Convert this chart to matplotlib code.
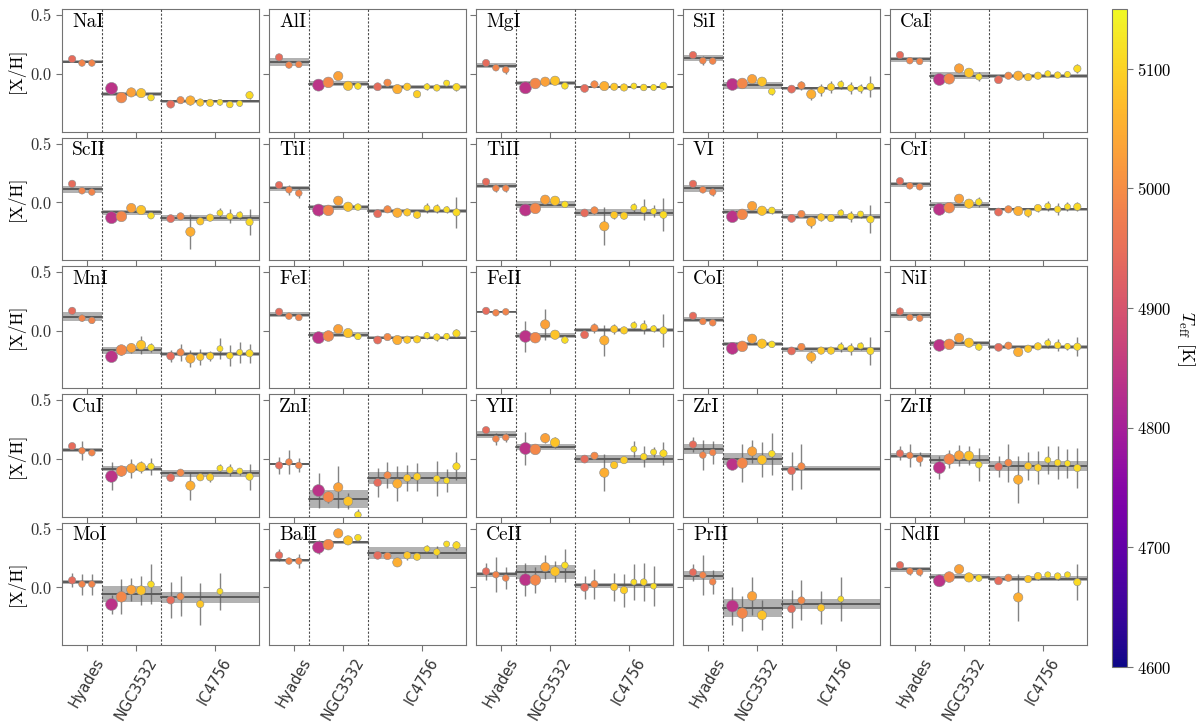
import numpy as np
import matplotlib
matplotlib.use('Agg')
import matplotlib.pyplot as plt
from matplotlib.colors import Normalize

nan = np.nan

elements = ['NaI', 'AlI', 'MgI', 'SiI', 'CaI',
            'ScII', 'TiI', 'TiII', 'VI', 'CrI',
            'MnI', 'FeI', 'FeII', 'CoI', 'NiI',
            'CuI', 'ZnI', 'YII', 'ZrI', 'ZrII',
            'MoI', 'BaII', 'CeII', 'PrII', 'NdII']
clusters = ['Hyades', 'NGC3532', 'IC4756']

# Effective temperatures of the stars in each cluster
hyades_teff = [4945, 4985, 4985]
ngc_teff = [4840, 4990, 5030, 5080, 5115]
ic_teff = [4945, 4995, 5050, 5085, 5095, 5115, 5105, 5115, 5110]

# marker areas (pt^2) per star
hyades_size = [28, 23, 23]
ngc_size = [74, 59, 45, 45, 23]
ic_size = [33, 28, 45, 28, 28, 19, 23, 19, 28]

hyades_vals = {
    'NaI': [0.128, 0.094, 0.094], 'AlI': [0.142, 0.077, 0.082], 'MgI': [0.094, 0.054, 0.037],
    'SiI': [0.162, 0.114, 0.111], 'CaI': [0.162, 0.114, 0.108], 'ScII': [0.158, 0.099, 0.088],
    'TiI': [0.147, 0.107, 0.079], 'TiII': [0.175, 0.121, 0.121], 'VI': [0.158, 0.107, 0.088],
    'CrI': [0.181, 0.141, 0.133], 'MnI': [0.169, 0.107, 0.088], 'FeI': [0.161, 0.124, 0.113],
    'FeII': [0.169, 0.153, 0.161], 'CoI': [0.127, 0.079, 0.068], 'NiI': [0.164, 0.113, 0.107],
    'CuI': [0.110, 0.071, 0.054], 'ZnI': [-0.054, -0.025, -0.054], 'YII': [0.246, 0.172, 0.184],
    'ZrI': [0.124, 0.034, 0.056], 'ZrII': [0.048, 0.031, 0.0], 'MoI': [0.060, 0.028, 0.028],
    'BaII': [0.273, 0.224, 0.224], 'CeII': [0.136, 0.108, 0.080], 'PrII': [0.128, 0.105, 0.048],
    'NdII': [0.189, 0.138, 0.130]}
hyades_errs = {
    'NaI': [.015, .015, .015], 'AlI': [.015, .015, .015], 'MgI': [.015, .015, .035],
    'SiI': [.015, .04, .02], 'CaI': [.015, .015, .015], 'ScII': [.02, .02, .02],
    'TiI': [.02, .04, .04], 'TiII': [.02, .03, .03], 'VI': [.02, .02, .03],
    'CrI': [.015, .02, .02], 'MnI': [.03, .02, .02], 'FeI': [.015, .015, .015],
    'FeII': [.02, .02, .02], 'CoI': [.015, .015, .015], 'NiI': [.015, .015, .015],
    'CuI': [.02, .08, .02], 'ZnI': [.07, .10, .06], 'YII': [.02, .05, .04],
    'ZrI': [.06, .13, .10], 'ZrII': [.06, .10, .06], 'MoI': [.06, .09, .09],
    'BaII': [.05, .02, .06], 'CeII': [.07, .15, .09], 'PrII': [.07, .17, .10],
    'NdII': [.02, .03, .03]}

ngc_vals = {
    'NaI': [-0.122, -0.200, -0.156, -0.162, -0.200], 'AlI': [-0.094, -0.071, -0.017, -0.100, -0.102],
    'MgI': [-0.117, -0.080, -0.065, -0.057, -0.100], 'SiI': [-0.088, -0.080, -0.043, -0.065, -0.148],
    'CaI': [-0.046, -0.040, 0.048, 0.011, -0.023], 'ScII': [-0.130, -0.119, -0.048, -0.065, -0.113],
    'TiI': [-0.065, -0.068, 0.014, -0.037, -0.040], 'TiII': [-0.065, -0.051, 0.023, 0.014, -0.017],
    'VI': [-0.121, -0.102, -0.031, -0.071, -0.068], 'CrI': [-0.059, -0.045, 0.031, -0.011, 0.003],
    'MnI': [-0.220, -0.164, -0.147, -0.121, -0.144], 'FeI': [-0.059, -0.045, 0.014, -0.020, -0.048],
    'FeII': [-0.048, -0.059, 0.054, -0.034, -0.079], 'CoI': [-0.150, -0.133, -0.068, -0.110, -0.116],
    'NiI': [-0.124, -0.116, -0.062, -0.102, -0.138], 'CuI': [-0.147, -0.102, -0.079, -0.068, -0.062],
    'ZnI': [-0.268, -0.322, -0.240, -0.359, -0.475], 'YII': [0.090, 0.082, 0.178, 0.141, nan],
    'ZrI': [-0.045, -0.034, 0.065, -0.006, 0.045], 'ZrII': [-0.073, 0.0, 0.031, 0.028, -0.048],
    'MoI': [-0.145, -0.080, -0.020, -0.026, 0.026], 'BaII': [0.341, 0.364, 0.460, 0.400, 0.423],
    'CeII': [0.065, 0.063, 0.173, 0.136, 0.188], 'PrII': [-0.159, -0.219, -0.074, -0.236, nan],
    'NdII': [0.056, 0.088, 0.155, 0.085, 0.079]}
ngc_errs = {
    'NaI': [.02, .02, .02, .02, .02], 'AlI': [.02, .02, .02, .02, .02], 'MgI': [.02, .02, .02, .02, .02],
    'SiI': [.02, .02, .02, .02, .03], 'CaI': [.02, .02, .02, .02, .04], 'ScII': [.04, .02, .02, .02, .02],
    'TiI': [.05, .02, .03, .02, .02], 'TiII': [.02, .02, .02, .02, .02], 'VI': [.02, .02, .02, .02, .03],
    'CrI': [.02, .02, .02, .02, .04], 'MnI': [.02, .04, .04, .08, .04], 'FeI': [.02, .02, .02, .02, .02],
    'FeII': [.13, .03, .13, .03, .02], 'CoI': [.02, .02, .02, .02, .02], 'NiI': [.02, .02, .02, .02, .03],
    'CuI': [.12, .04, .08, .05, .07], 'ZnI': [.15, .05, .18, .07, .05], 'YII': [.14, .02, .04, .05, nan],
    'ZrI': [.04, .16, .10, .15, .18], 'ZrII': [.10, .08, .09, .08, .14], 'MoI': [.08, .15, .10, .12, .17],
    'BaII': [.06, .02, .02, .02, .02], 'CeII': [.14, .11, .10, .09, .14], 'PrII': [.16, .15, .16, .13, nan],
    'NdII': [.04, .02, .03, .02, .02]}

ic_vals = {
    'NaI': [-0.256, -0.222, -0.225, -0.242, -0.245, -0.240, -0.259, -0.250, -0.180],
    'AlI': [-0.108, -0.074, -0.128, -0.108, -0.171, -0.108, -0.117, -0.077, -0.111],
    'MgI': [-0.122, -0.088, -0.102, -0.108, -0.114, -0.102, -0.114, -0.114, -0.100],
    'SiI': [-0.128, -0.097, -0.171, -0.134, -0.111, -0.088, -0.119, -0.125, -0.108],
    'CaI': [-0.048, -0.014, -0.014, -0.026, -0.014, 0.003, -0.009, -0.003, 0.046],
    'ScII': [-0.138, -0.119, -0.250, -0.161, -0.130, -0.090, -0.119, -0.107, -0.167],
    'TiI': [-0.096, -0.059, -0.088, -0.085, -0.105, -0.048, -0.054, -0.062, -0.085],
    'TiII': [-0.090, -0.068, -0.203, -0.107, -0.113, -0.042, -0.062, -0.076, -0.105],
    'VI': [-0.136, -0.099, -0.164, -0.127, -0.133, -0.090, -0.119, -0.099, -0.144],
    'CrI': [-0.082, -0.059, -0.073, -0.088, -0.048, -0.031, -0.059, -0.037, -0.037],
    'MnI': [-0.215, -0.184, -0.237, -0.223, -0.215, -0.153, -0.212, -0.184, -0.192],
    'FeI': [-0.079, -0.054, -0.079, -0.076, -0.073, -0.040, -0.054, -0.048, -0.023],
    'FeII': [-0.034, 0.023, -0.082, 0.014, 0.003, 0.045, 0.034, 0.017, 0.003],
    'CoI': [-0.172, -0.138, -0.223, -0.169, -0.169, -0.138, -0.153, -0.130, -0.172],
    'NiI': [-0.141, -0.127, -0.181, -0.153, -0.133, -0.105, -0.124, -0.133, -0.136],
    'CuI': [-0.158, -0.116, -0.226, -0.155, -0.155, -0.079, -0.093, -0.102, -0.150],
    'ZnI': [-0.200, -0.138, -0.209, -0.161, -0.150, nan, -0.167, -0.184, -0.062],
    'YII': [0.0, 0.028, -0.116, -0.051, -0.009, 0.085, 0.020, 0.059, 0.048],
    'ZrI': [-0.099, -0.062, nan, nan, nan, nan, nan, nan, nan],
    'ZrII': [-0.065, -0.031, -0.175, -0.059, -0.073, -0.008, -0.031, -0.037, -0.076],
    'MoI': [-0.108, -0.077, nan, -0.142, nan, -0.034, nan, nan, nan],
    'BaII': [0.273, 0.267, 0.213, 0.273, 0.261, 0.327, 0.301, 0.369, 0.358],
    'CeII': [0.0, 0.028, nan, 0.003, -0.023, 0.045, 0.045, 0.011, nan],
    'PrII': [-0.182, -0.111, nan, -0.173, nan, -0.099, nan, nan, nan],
    'NdII': [0.056, 0.082, -0.085, 0.071, 0.096, 0.107, 0.096, 0.107, 0.045]}
ic_errs = {
    'NaI': [.02, .02, .04, .02, .02, .02, .02, .02, .035],
    'AlI': [.02, .02, .02, .02, .02, .03, .02, .03, .03],
    'MgI': [.02, .02, .02, .02, .02, .02, .02, .02, .02],
    'SiI': [.02, .04, .05, .05, .05, .04, .05, .04, .09],
    'CaI': [.02, .02, .02, .02, .02, .02, .02, .02, .04],
    'ScII': [.02, .02, .15, .02, .02, .04, .06, .03, .11],
    'TiI': [.02, .02, .02, .02, .03, .04, .04, .03, .13],
    'TiII': [.02, .03, .16, .03, .02, .04, .09, .05, .14],
    'VI': [.02, .02, .05, .03, .02, .03, .05, .03, .12],
    'CrI': [.02, .02, .02, .04, .03, .04, .05, .04, .04],
    'MnI': [.05, .07, .07, .07, .04, .09, .09, .09, .08],
    'FeI': [.02, .02, .02, .02, .02, .03, .03, .03, .04],
    'FeII': [.02, .04, .13, .04, .02, .04, .06, .03, .14],
    'CoI': [.02, .02, .05, .02, .02, .04, .05, .03, .12],
    'NiI': [.02, .02, .02, .02, .02, .04, .05, .03, .08],
    'CuI': [.02, .02, .12, .02, .04, .04, .05, .03, .11],
    'ZnI': [.12, .11, .15, .11, .12, nan, .15, .10, .12],
    'YII': [.02, .02, .16, .02, .02, .07, .09, .04, .10],
    'ZrI': [.16, .19, nan, nan, nan, nan, nan, nan, nan],
    'ZrII': [.09, .16, .20, .12, .14, .12, .14, .12, .17],
    'MoI': [.15, .17, nan, .18, nan, .16, nan, nan, nan],
    'BaII': [.02, .02, .02, .04, .02, .03, .05, .02, .04],
    'CeII': [.10, .13, nan, .12, .14, .15, .16, .17, nan],
    'PrII': [.16, .17, nan, .14, nan, .19, nan, nan, nan],
    'NdII': [.02, .02, .20, .02, .03, .02, .03, .02, .15]}

# cluster mean abundance [Hyades, NGC3532, IC4756] and half-width of the grey band
cluster_means = {
    'NaI': [0.105, -0.170, -0.233], 'AlI': [0.100, -0.082, -0.108], 'MgI': [0.071, -0.077, -0.108],
    'SiI': [0.134, -0.094, -0.122], 'CaI': [0.125, -0.014, -0.017], 'ScII': [0.113, -0.085, -0.136],
    'TiI': [0.121, -0.042, -0.073], 'TiII': [0.141, -0.020, -0.088], 'VI': [0.121, -0.079, -0.121],
    'CrI': [0.155, -0.020, -0.059], 'MnI': [0.119, -0.167, -0.198], 'FeI': [0.138, -0.034, -0.059],
    'FeII': [0.161, -0.042, 0.006], 'CoI': [0.093, -0.113, -0.158], 'NiI': [0.133, -0.107, -0.138],
    'CuI': [0.076, -0.082, -0.121], 'ZnI': [-0.042, -0.339, -0.158], 'YII': [0.209, 0.099, 0.003],
    'ZrI': [0.085, 0.003, -0.082], 'ZrII': [0.028, -0.006, -0.059], 'MoI': [0.045, -0.057, -0.085],
    'BaII': [0.230, 0.384, 0.290], 'CeII': [0.111, 0.128, 0.017], 'PrII': [0.099, -0.176, -0.142],
    'NdII': [0.155, 0.090, 0.073]}
cluster_bands = {
    'NaI': [0.015, 0.015, 0.012], 'AlI': [0.035, 0.02, 0.015], 'MgI': [0.02, 0.015, 0.008],
    'SiI': [0.025, 0.03, 0.015], 'CaI': [0.02, 0.03, 0.015], 'ScII': [0.03, 0.02, 0.025],
    'TiI': [0.02, 0.02, 0.015], 'TiII': [0.02, 0.03, 0.03], 'VI': [0.03, 0.02, 0.02],
    'CrI': [0.02, 0.025, 0.015], 'MnI': [0.04, 0.03, 0.02], 'FeI': [0.02, 0.02, 0.015],
    'FeII': [0.003, 0.02, 0.02], 'CoI': [0.02, 0.02, 0.02], 'NiI': [0.025, 0.02, 0.015],
    'CuI': [0.02, 0.02, 0.03], 'ZnI': [0.005, 0.08, 0.05], 'YII': [0.03, 0.025, 0.035],
    'ZrI': [0.04, 0.05, 0.02], 'ZrII': [0.02, 0.04, 0.04], 'MoI': [0.015, 0.07, 0.05],
    'BaII': [0.01, 0.015, 0.05], 'CeII': [0.02, 0.06, 0.02], 'PrII': [0.04, 0.08, 0.04],
    'NdII': [0.02, 0.02, 0.02]}

# ---------------------------------------------------------------- style
plt.rcParams['font.family'] = 'serif'
plt.rcParams['font.serif'] = ['cmr10', 'DejaVu Serif']
plt.rcParams['mathtext.fontset'] = 'cm'
plt.rcParams['axes.formatter.use_mathtext'] = True

cmap = plt.get_cmap('plasma')
norm = Normalize(vmin=4600, vmax=5150)

fig = plt.figure(figsize=(12, 7.26), dpi=100)
gs = fig.add_gridspec(5, 5, left=0.0519, right=0.906, top=0.987, bottom=0.1116,
                      wspace=0.05, hspace=0.05)

x_h = np.arange(0, 3)
x_n = np.arange(4, 9)
x_i = np.arange(10, 19)
regions = [(-1, 3), (3, 9), (9, 19)]
tick_pos = [1.5, 6.5, 14.5]
spine_col = '0.45'

for k, el in enumerate(elements):
    r, c = divmod(k, 5)
    ax = fig.add_subplot(gs[r, c])
    groups = [(x_h, hyades_vals[el], hyades_errs[el], hyades_teff, hyades_size),
              (x_n, ngc_vals[el], ngc_errs[el], ngc_teff, ngc_size),
              (x_i, ic_vals[el], ic_errs[el], ic_teff, ic_size)]
    for j, (lo, hi) in enumerate(regions):
        m = cluster_means[el][j]
        b = cluster_bands[el][j]
        ax.fill_between([lo, hi], m - b, m + b, color='0.5', alpha=0.6, lw=0, zorder=1)
        ax.plot([lo, hi], [m, m], color='0.2', lw=1.2, alpha=0.8, zorder=2)
    for xs, vals, errs, teff, size in groups:
        vals = np.array(vals, float)
        errs = np.array(errs, float)
        ok = ~np.isnan(vals)
        ax.errorbar(xs[ok], vals[ok], yerr=errs[ok], fmt='none', ecolor='0.35',
                    elinewidth=1.0, alpha=0.75, zorder=2.5)
        ax.scatter(xs[ok], vals[ok], c=np.array(teff)[ok], cmap=cmap, norm=norm,
                   s=np.array(size)[ok], edgecolors='0.55', linewidths=0.4, zorder=3)
    for xd in (3, 9):
        ax.axvline(xd, color='0.3', lw=0.8, ls=(0, (2, 1.5)), zorder=4)
    ax.set_xlim(-1, 19)
    ax.set_ylim(-0.49, 0.55)
    ax.set_yticks([0.0, 0.5])
    ax.set_xticks(tick_pos)
    ax.text(0.05, 0.97, el, transform=ax.transAxes, ha='left', va='top', fontsize=14,
            zorder=5)
    for s in ax.spines.values():
        s.set_color(spine_col)
    ax.tick_params(colors='0.2', length=4, width=0.8, labelsize=12)
    ax.tick_params(axis='both', color=spine_col)
    if c == 0:
        ax.set_yticklabels(['0.0', '0.5'])
        ax.set_ylabel('[X/H]', fontsize=12.5)
    else:
        ax.set_yticklabels([])
    if r == 4:
        ax.set_xticklabels(clusters, rotation=60, fontsize=10.5, family='DejaVu Sans')
    else:
        ax.set_xticklabels([])

cax = fig.add_axes([1112 / 1200, 1 - 667 / 726, 15 / 1200, (667 - 9) / 726])
sm = plt.cm.ScalarMappable(cmap=cmap, norm=norm)
cb = fig.colorbar(sm, cax=cax)
cb.set_ticks([4600, 4700, 4800, 4900, 5000, 5100])
cb.ax.tick_params(labelsize=12, length=4, color=spine_col)
cb.outline.set_edgecolor(spine_col)
cb.set_label(r'$T_{\rm eff}$ [K]', rotation=270, labelpad=18, fontsize=13)

fig.savefig('out.png', dpi=100)
